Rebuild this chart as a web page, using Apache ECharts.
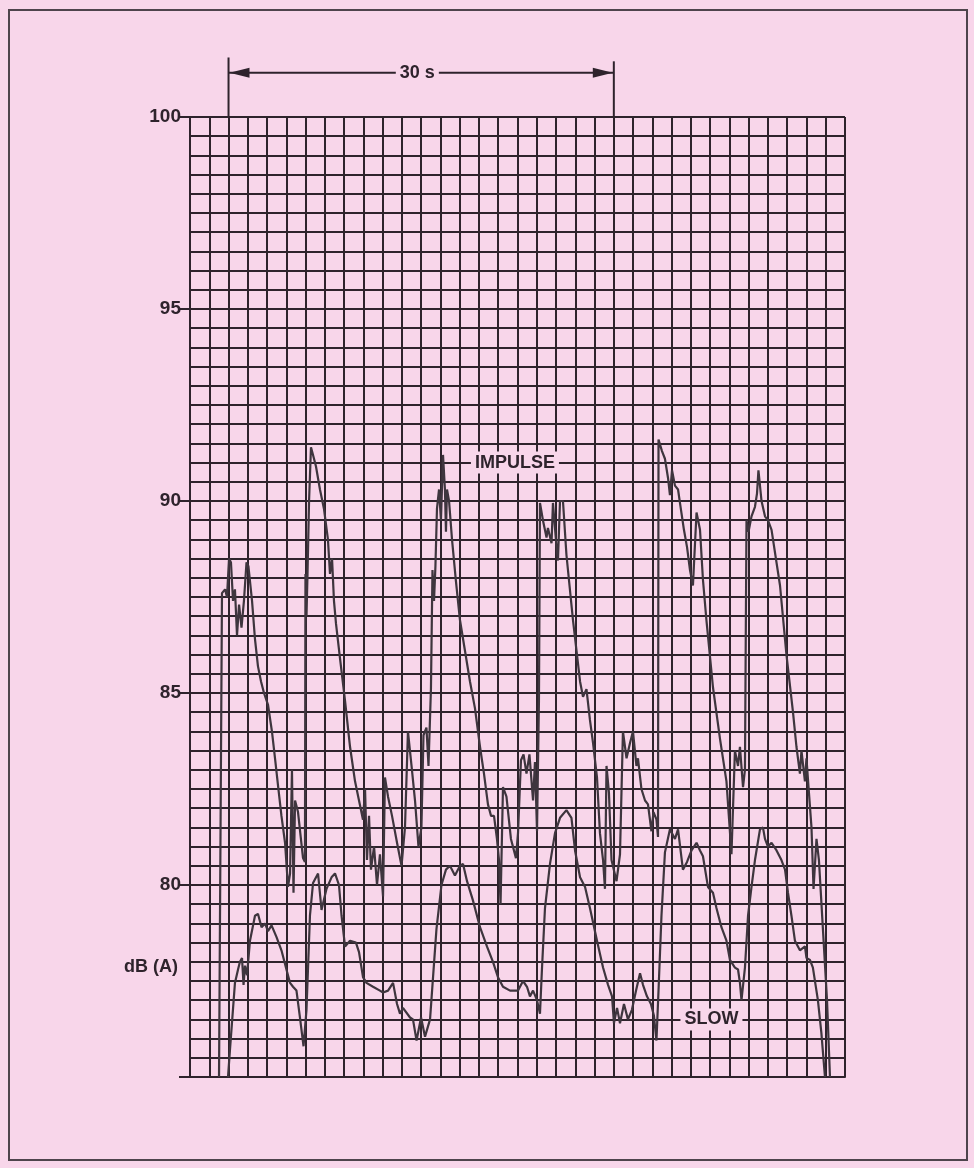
<!DOCTYPE html>
<html><head><meta charset="utf-8">
<script src="https://cdn.jsdelivr.net/npm/echarts@6/dist/echarts.min.js"></script>
<style>html,body{margin:0;padding:0;background:#f8d6ea}#c{width:974px;height:1168px}</style>
</head><body><div id="c"></div>
<script>
// time axis in seconds (one grid division = 1.5 s), level axis in dB(A)
const xMin = 0, xMax = 51, xStep = 1.5;
const yMin = 75, yMax = 100, yMinor = 0.5, yMajor = 5;
const yTickLabels = [80, 85, 90, 95, 100];
const yAxisTitle = 'dB (A)';

// IMPULSE trace [time s, dB(A)]
const impulse = [
[2.26,75.0],[2.49,87.6],[2.73,87.7],[2.88,87.5],[3.04,88.5],[3.19,88.4],[3.35,87.4],[3.50,87.7],[3.66,86.5],[3.82,87.3],[4.01,86.7],[4.20,87.4],[4.40,88.4],[4.55,88.3],[4.83,87.4],[5.06,86.4],[5.29,85.7],[5.53,85.3],[5.76,85.0],[6.07,84.7],[6.38,84.0],[6.62,83.3],[6.85,82.6],[7.12,81.8],[7.40,81.1],[7.63,79.95],[7.79,80.3],[7.94,83.0],[8.06,79.8],[8.18,82.2],[8.41,81.9],[8.80,80.7],[8.95,80.6],
[8.99,88.1],[9.07,87.0],[9.15,88.1],[9.27,90.0],[9.42,91.4],[9.58,91.2],[9.81,90.9],[10.12,90.3],[10.43,89.8],[10.74,89.0],[10.90,88.1],[11.06,88.5],[11.21,87.4],[11.37,86.8],[11.68,85.9],[12.07,84.8],[12.46,83.6],[12.85,82.7],[13.16,82.2],[13.47,81.7],[13.63,82.5],[13.78,80.65],[13.94,81.8],[14.09,80.4],[14.33,81.0],[14.56,80.0],[14.79,80.8],[15.03,79.7],[15.18,82.8],[15.42,82.3],[15.73,81.8],[16.12,81.1],[16.47,80.5],[16.74,81.5],[16.97,84.0],[17.25,83.1],[17.52,82.2],[17.79,81.0],[18.02,81.5],[18.18,83.9],[18.41,84.1],[18.57,83.1],[18.76,85.1],
[18.88,88.2],[19.00,87.4],[19.11,88.3],[19.23,89.8],[19.39,90.3],[19.54,89.5],[19.70,91.2],[19.85,90.3],[19.93,89.2],[20.01,90.3],[20.17,90.0],[20.40,89.0],[20.71,87.9],[21.02,86.9],[21.41,86.1],[21.80,85.3],[22.19,84.6],[22.58,83.6],[22.89,82.9],[23.20,82.1],[23.44,81.8],[23.67,81.8],[23.90,81.2],[24.06,80.65],[24.18,79.5],[24.37,82.55],[24.64,82.3],[24.99,81.2],[25.38,80.7],[25.54,81.35],[25.77,83.25],[25.97,83.4],[26.20,82.9],[26.43,83.4],[26.71,82.2],[26.86,83.2],[27.02,81.4],[27.17,84.8],
[27.25,89.95],[27.48,89.5],[27.76,89.05],[27.87,89.3],[28.15,88.9],[28.26,89.95],[28.54,88.8],[28.65,88.45],[28.81,90.0],[29.04,90.0],[29.31,88.6],[29.82,86.9],[30.37,85.3],[30.60,84.9],[30.87,85.1],[31.14,84.3],[31.38,83.7],[31.69,82.8],[31.92,81.35],[32.16,80.65],[32.31,79.9],[32.43,83.1],[32.62,82.4],[32.82,80.65],[33.21,80.1],[33.48,80.8],[33.71,84.0],[33.99,83.3],[34.26,83.7],[34.49,84.0],[34.76,83.1],[34.88,83.3],[35.15,82.5],[35.43,82.2],[35.66,82.1],[35.93,81.4],[36.09,81.9],[36.32,81.7],[36.44,81.25],
[36.48,91.6],[36.75,91.3],[36.98,91.1],[37.22,90.6],[37.37,90.15],[37.53,90.8],[37.76,90.4],[38.00,90.3],[38.15,89.95],[38.46,89.25],[38.70,88.8],[38.93,88.2],[39.16,87.8],[39.44,89.7],[39.71,89.25],[39.94,87.95],[40.21,86.9],[40.72,85.15],[41.27,83.8],[41.77,82.7],[42.16,80.8],[42.43,83.5],[42.67,83.1],[42.82,83.6],[43.06,82.55],[43.21,83.0],
[43.33,89.5],[43.49,89.2],[43.72,89.6],[43.99,89.85],[44.15,90.2],[44.26,90.8],[44.50,90.0],[44.77,89.6],[45.00,89.5],[45.28,89.25],[45.94,87.8],[46.44,86.0],[46.95,84.5],[47.22,83.6],[47.49,82.9],[47.61,83.5],[47.88,82.7],[48.00,83.3],[48.16,82.55],[48.39,81.5],[48.55,79.9],[48.78,81.2],[48.97,80.65],[49.29,78.8],[49.60,77.0],[49.83,75.0]
];

// SLOW trace [time s, dB(A)]
const slow = [
[2.96,75.0],[3.11,75.7],[3.50,77.45],[3.74,77.8],[3.89,78.0],[4.05,78.1],[4.17,77.4],[4.28,77.9],[4.44,77.65],[4.67,78.55],[5.06,79.2],[5.29,79.25],[5.57,78.9],[5.84,79.0],[6.07,78.8],[6.35,78.95],[6.73,78.65],[7.12,78.3],[7.51,77.8],[7.79,77.45],[8.02,77.35],[8.29,77.25],[8.56,76.55],[8.84,75.8],[9.07,76.75],
[9.34,79.2],[9.58,80.05],[9.97,80.3],[10.24,79.35],[10.63,79.9],[11.02,80.2],[11.29,80.3],[11.60,80.0],[11.80,79.2],[12.07,78.4],[12.46,78.55],[12.92,78.5],[13.16,78.25],[13.47,77.6],[13.74,77.45],[14.25,77.35],[14.79,77.25],[15.03,77.2],[15.42,77.25],[15.81,77.45],[16.12,76.9],[16.35,76.65],[16.58,76.8],[17.13,76.55],[17.36,76.5],[17.64,75.95],[17.99,76.55],[18.30,76.05],[18.69,76.5],
[19.19,78.85],[19.58,80.0],[19.93,80.4],[20.24,80.5],[20.63,80.25],[21.02,80.5],[21.26,80.55],[21.57,80.1],[22.03,79.6],[22.58,78.9],[23.12,78.4],[23.59,78.0],[23.98,77.6],[24.37,77.35],[24.92,77.25],[25.54,77.25],[25.93,77.5],[26.24,77.35],[26.47,77.1],[26.71,77.25],[27.02,77.0],[27.25,76.65],
[27.41,77.85],[27.64,79.4],[28.03,80.55],[28.42,81.35],[28.81,81.75],[29.31,81.95],[29.70,81.75],[29.98,80.9],[30.37,80.2],[30.76,79.95],[31.14,79.4],[31.69,78.55],[32.16,77.85],[32.55,77.4],[32.86,77.1],[33.01,76.4],[33.25,76.8],[33.48,76.4],[33.79,76.9],[34.10,76.5],[34.41,76.75],[34.73,77.25],[35.04,77.7],[35.27,77.4],[35.58,77.1],[35.89,76.9],[36.12,76.6],[36.32,75.95],
[36.48,77.25],[36.71,79.2],[36.98,80.85],[37.37,81.45],[37.76,81.2],[38.00,81.45],[38.38,80.4],[38.70,80.6],[39.05,80.9],[39.44,81.1],[39.71,80.9],[39.94,80.75],[40.33,79.95],[40.72,79.8],[40.99,79.4],[41.38,78.9],[41.77,78.55],[42.04,78.05],[42.43,77.85],[42.67,77.8],[42.82,77.45],[42.94,77.0],
[43.21,77.85],[43.45,79.2],[43.72,79.95],[43.99,80.65],[44.38,81.45],[44.61,81.5],[44.77,81.2],[45.00,81.0],[45.28,81.1],[45.67,80.9],[46.05,80.65],[46.33,80.4],[46.56,79.8],[46.83,79.2],[47.10,78.55],[47.49,78.3],[47.88,78.4],[48.00,78.1],[48.27,78.05],[48.50,77.85],[48.89,77.0],[49.16,76.15],[49.44,75.0]
];

// annotations (data coordinates)
const spanStart = 3, spanEnd = 33, spanLabel = '30 s';
const seriesLabels = [
  {text: 'IMPULSE', t: 25.3, v: 91.0},
  {text: 'SLOW', t: 40.6, v: 76.5}
];

const INK = '#2e232c';
const TRACE = '#3e353e';
const PINK = '#f8d6ea';
const FONT = '"Liberation Sans", Arial, sans-serif';

const chart = echarts.init(document.getElementById('c'), null, {renderer: 'canvas'});
chart.setOption({
  backgroundColor: PINK,
  animation: false,
  grid: {left: 190, top: 117, width: 655, height: 960, containLabel: false},
  xAxis: {
    type: 'value', min: xMin, max: xMax, interval: xStep,
    axisLine: {show: true, lineStyle: {color: INK, width: 2}},
    axisTick: {show: false}, axisLabel: {show: false},
    splitLine: {show: true, lineStyle: {color: INK, width: 2}}
  },
  yAxis: [{
    type: 'value', min: yMin, max: yMax, interval: yMinor,
    axisLine: {show: true, lineStyle: {color: INK, width: 2}},
    axisTick: {show: false}, axisLabel: {show: false},
    splitLine: {show: true, lineStyle: {color: INK, width: 2}}
  }, {
    type: 'value', min: yMin, max: yMax, interval: yMajor, position: 'left',
    axisLine: {show: false},
    axisTick: {show: true, inside: false, length: 11, lineStyle: {color: INK, width: 2}},
    splitLine: {show: false},
    axisLabel: {
      show: true, margin: 9, color: INK, fontSize: 19, fontWeight: 'bold', fontFamily: FONT,
      formatter: v => yTickLabels.indexOf(v) >= 0 ? String(v) : ''
    }
  }],
  series: [
    {name: 'IMPULSE', type: 'line', data: impulse, showSymbol: false, yAxisIndex: 0,
     lineStyle: {color: TRACE, width: 2.2}, z: 3},
    {name: 'SLOW', type: 'line', data: slow, showSymbol: false, yAxisIndex: 0,
     lineStyle: {color: TRACE, width: 2.2}, z: 3}
  ]
});

function px(t, v) { return chart.convertToPixel({gridIndex: 0}, [t, v]); }

const g = [];
// outer frame
g.push({type: 'rect', shape: {x: 9, y: 10, width: 958, height: 1150},
  style: {fill: 'none', stroke: '#4e444c', lineWidth: 2}, z: 1, silent: true});

// 30 s span marker above the plot
const yArrow = 101.15, yTopL = 101.55, yTopR = 101.45;
const aL = px(spanStart, yArrow), aR = px(spanEnd, yArrow);
const tL = px(spanStart, yTopL), tR = px(spanEnd, yTopR), b0 = px(spanStart, yMax), b1 = px(spanEnd, yMax);
g.push({type: 'line', shape: {x1: tL[0], y1: tL[1], x2: b0[0], y2: b0[1]}, style: {stroke: INK, lineWidth: 2}, z: 5});
g.push({type: 'line', shape: {x1: tR[0], y1: tR[1], x2: b1[0], y2: b1[1]}, style: {stroke: INK, lineWidth: 2}, z: 5});
g.push({type: 'line', shape: {x1: aL[0], y1: aL[1], x2: aR[0], y2: aR[1]}, style: {stroke: INK, lineWidth: 2}, z: 5});
g.push({type: 'polygon', shape: {points: [[aL[0] + 1, aL[1]], [aL[0] + 21, aL[1] - 5], [aL[0] + 21, aL[1] + 5]]}, style: {fill: INK}, z: 5});
g.push({type: 'polygon', shape: {points: [[aR[0] - 1, aR[1]], [aR[0] - 21, aR[1] - 5], [aR[0] - 21, aR[1] + 5]]}, style: {fill: INK}, z: 5});
const mid = px((spanStart + spanEnd) / 2 - 0.3, yArrow);
g.push({type: 'text', x: mid[0], y: mid[1], z: 6,
  style: {text: spanLabel, fill: INK, font: 'bold 18px ' + FONT, align: 'center', verticalAlign: 'middle',
          backgroundColor: PINK, padding: [2, 4]}});

// series labels on the grid
seriesLabels.forEach(l => {
  const p = px(l.t, l.v);
  g.push({type: 'text', x: p[0], y: p[1], z: 6,
    style: {text: l.text, fill: INK, font: 'bold 18px ' + FONT, align: 'center', verticalAlign: 'middle',
            backgroundColor: PINK, padding: [2, 4]}});
});

// axis title
const pt = px(xMin, 77.86);
g.push({type: 'text', x: pt[0] - 12, y: pt[1], z: 6,
  style: {text: yAxisTitle, fill: INK, font: 'bold 18px ' + FONT, align: 'right', verticalAlign: 'middle'}});

chart.setOption({graphic: g});
</script>
</body></html>
